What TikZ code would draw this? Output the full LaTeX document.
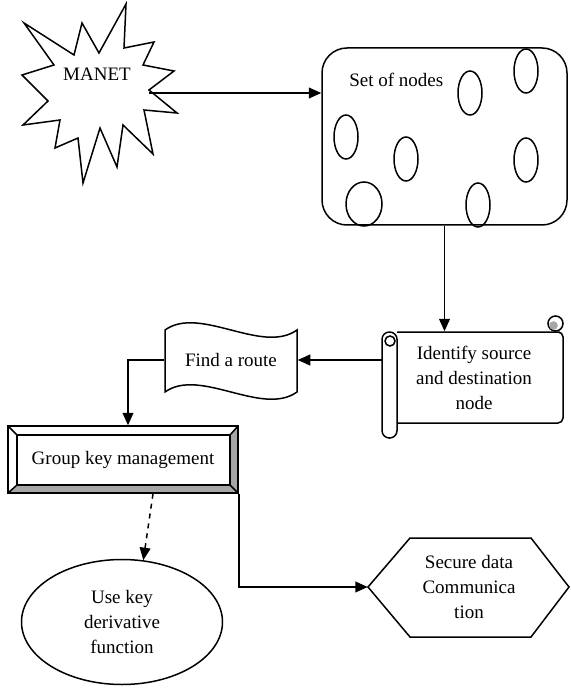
\documentclass[tikz,border=0pt]{standalone}
\usepackage{fontspec}
\setmainfont{Liberation Serif}
\usetikzlibrary{positioning}
\usetikzlibrary{calc}
\usetikzlibrary{shapes.geometric}
\usetikzlibrary{arrows.meta}

\begin{document}
\begin{tikzpicture}[x=0.6pt, y=-0.6pt, line width=0.9pt,
		font=\fontsize{11.4}{15}\selectfont,
		arr/.style={-{Triangle[length=7.5pt, width=6.5pt]}},
		blob/.style={draw, ellipse, minimum width=14.4pt, minimum height=26.4pt, inner sep=0pt}]
			\useasboundingbox (0,0) rectangle (570,688);
			% Burst
			\draw (24,23) -- (74,55) -- (82,23) -- (99,53) -- (126,4) -- (124,48) -- (154,42) -- (143,65)
				-- (174,71) -- (149,90) -- (177,113) -- (144,110) -- (153,154) -- (123,125) -- (117,167)
				-- (100,128) -- (83,183) -- (78,138) -- (55,148) -- (60,120) -- (23,125) -- (48,101)
				-- (22,75) -- (54,65) -- cycle;
			\node (manet) at (97,74) {MANET};
			\coordinate (manetout) at (149,93);
			% Set of nodes
			\node[draw, rounded corners=15pt, minimum width=147pt, minimum height=106.2pt] (set) at (444.5,136.5) {};
			\node[anchor=west] (settxt) at (343,80) {Set of nodes};
			\node[blob] (n1) at (470,93) {};
			\node[blob] (n2) at (526,71) {};
			\node[blob] (n3) at (346,137) {};
			\node[blob] (n4) at (406,159) {};
			\node[blob] (n5) at (526,160) {};
			\node[blob, minimum width=21.6pt] (n6) at (364,204) {};
			\node[blob] (n7) at (478,205) {};
			% Scroll
			\draw[rounded corners=3pt] (397,332) -- (555,332) -- (563,332) -- (563,423) -- (397,423);
			\draw[fill=white, rounded corners=4.4pt] (382,332) rectangle (397,438);
			\draw (390,341) circle[radius=3pt];
			\draw[fill=white] (555.5,323.5) circle[radius=4.5pt];
			\fill[gray!70] (553.5,325.5) circle[radius=2.6pt];
			\node[minimum width=108.6pt, minimum height=54.6pt, align=center] (ident) at (474,377.5) {Identify source\\and destination\\node};
			% Wave
			\draw (165,330) .. controls (200,305) and (262,355) .. (297,330) -- (297,392)
				.. controls (262,417) and (200,367) .. (165,392) -- cycle;
			\node[minimum width=79.2pt, minimum height=37.2pt] (route) at (231,360) {Find a route};
			% Bevel box
			\fill[gray!70] (230,435) -- (238,426) -- (238,493) -- (8,493) -- (17,485) -- (230,485) -- cycle;
			\node[draw, minimum width=138pt, minimum height=40.2pt] (group) at (123,459.5) {Group key management};
			\draw (17,435) rectangle (230,485);
			\draw (8,426) -- (17,435) (238,426) -- (230,435) (8,493) -- (17,485) (238,493) -- (230,485);
			% Ellipse and hexagon
			\node[draw, ellipse, minimum width=120.6pt, minimum height=75pt, align=center] (use) at (122,622) {Use key\\derivative\\function};
			\node[minimum width=120.6pt, minimum height=59.4pt, align=center] (secure) at (469,587) {Secure data\\Communica\\tion};
			\draw (368,587) -- (410,538) -- (531,538) -- (569,587) -- (531,637) -- (410,637) -- cycle;
			% Arrows
			\draw[arr] (manetout) -- (set.west |- manetout);
			\draw[arr] (set.south) -- (set.south |- ident.north);
			\draw[arr] (ident.west |- route.east) -- (route.east);
			\draw[arr] (route.west) -| ($(group.north)+(5,0)$);
			\draw[arr, dashed] ($(group.south)+(30,0)$) -- (use.71);
			\draw[arr] (group.south east) |- (secure.west);
		\end{tikzpicture}
\end{document}
